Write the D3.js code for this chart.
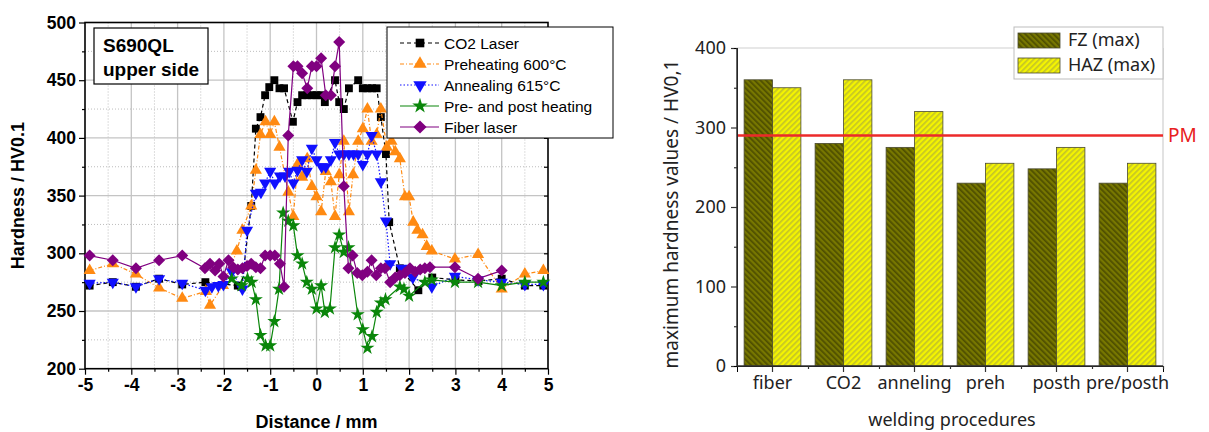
<!DOCTYPE html>
<html>
<head>
<meta charset="utf-8">
<script src="https://d3js.org/d3.v7.min.js"></script>
<style>
  body { margin: 0; background: #fff; }
  svg { display: block; }
</style>
</head>
<body>
<svg id="chart"></svg>
<script>
// ---- left panel data: hardness profiles, [distance mm, HV0.1]
var co2Laser = [[-4.9,272],[-4.4,275],[-3.9,271],[-3.4,278],[-2.9,273],[-2.4,275],[-1.7,272],[-1.62,271],
  [-1.41,341],[-1.31,408],[-1.21,418],[-1.11,437],[-1.02,444],[-0.91,450],[-0.8,443],[-0.7,443],[-0.51,414],
  [-0.41,431],[-0.31,437],[-0.2,437],[-0.1,437],[0,437],[0.1,437],[0.18,431],[0.4,450],[0.49,431],[0.59,425],
  [0.7,443],[0.9,450],[1.0,443],[1.1,443],[1.2,443],[1.3,443],[1.39,418],[1.5,386],[1.57,327],[1.8,287],
  [2.2,268],[2.5,279],[3.0,277],[3.5,276],[4.0,278],[4.5,272],[4.9,272]];
var preheating = [[-4.9,285],[-4.4,291],[-3.9,282],[-3.4,270],[-2.9,261],[-2.39,267],[-2.3,255],[-2.02,272],
  [-1.72,302],[-1.6,320],[-1.41,341],[-1.31,372],[-1.21,403],[-1.1,414],[-1.0,403],[-0.91,414],[-0.8,392],
  [-0.61,353],[-0.5,332],[-0.41,377],[-0.31,366],[-0.2,382],[-0.1,358],[0,349],[0.1,336],[0.2,371],[0.31,362],
  [0.4,332],[0.49,368],[0.59,397],[0.7,336],[0.79,368],[0.9,397],[1.0,408],[1.1,425],[1.19,397],[1.3,403],
  [1.39,425],[1.52,392],[1.62,397],[1.7,388],[1.8,382],[1.91,349],[2.0,349],[2.09,327],[2.18,320],[2.29,316],
  [2.38,306],[2.49,302],[2.99,295],[3.49,299],[4.0,269],[4.5,282],[4.9,285]];
var annealing = [[-4.9,274],[-4.4,275],[-3.9,271],[-3.4,278],[-2.9,274],[-2.4,268],[-2.26,271],[-2.12,272],
  [-2.01,273],[-1.83,284],[-1.6,269],[-1.5,320],[-1.31,352],[-1.2,353],[-1.11,361],[-1.0,371],[-0.9,361],
  [-0.79,367],[-0.68,367],[-0.59,371],[-0.5,361],[-0.41,372],[-0.31,381],[-0.21,371],[-0.1,391],[0,381],
  [0.11,375],[0.2,375],[0.31,381],[0.4,396],[0.49,386],[0.59,386],[0.7,386],[0.8,386],[0.9,386],[1.0,377],
  [1.1,386],[1.19,402],[1.3,386],[1.39,362],[1.5,328],[1.59,291],[1.84,287],[2.08,279],[2.49,271],[2.99,280],
  [3.49,277],[4.0,275],[4.5,273],[4.9,273]];
var prePostHeating = [[-1.83,278],[-1.62,272],[-1.49,278],[-1.4,275],[-1.31,260],[-1.21,229],[-1.1,220],
  [-1.0,220],[-0.91,241],[-0.81,269],[-0.72,335],[-0.61,328],[-0.5,324],[-0.41,298],[-0.31,291],[-0.21,275],
  [-0.1,269],[0,252],[0.1,272],[0.18,249],[0.29,252],[0.4,305],[0.49,316],[0.59,301],[0.69,305],[0.89,247],
  [1.0,234],[1.1,218],[1.2,228],[1.3,249],[1.39,257],[1.49,260],[1.8,271],[1.89,269],[2.0,263],[2.34,275],
  [2.49,277],[2.99,275],[3.49,275],[4.0,272],[4.5,275],[4.9,275]];
var fiberLaser = [[-4.9,298],[-4.4,294],[-3.9,287],[-3.4,294],[-2.9,298],[-2.41,287],[-2.3,291],[-2.19,285],
  [-2.1,291],[-2.01,280],[-1.9,294],[-1.8,288],[-1.7,286],[-1.6,287],[-1.5,289],[-1.41,291],[-1.31,288],
  [-1.21,287],[-1.11,298],[-1.0,298],[-0.9,298],[-0.79,291],[-0.7,271],[-0.61,402],[-0.5,462],[-0.41,462],
  [-0.31,456],[-0.2,443],[-0.1,462],[0,462],[0.1,469],[0.2,437],[0.31,437],[0.4,462],[0.49,483],[0.59,358],
  [0.69,287],[0.78,298],[0.88,283],[0.99,281],[1.1,284],[1.19,294],[1.29,281],[1.39,287],[1.48,287],
  [1.59,275],[1.7,279],[1.8,281],[1.91,283],[2.02,287],[2.13,284],[2.24,286],[2.34,287],[2.45,288],
  [2.99,288],[3.49,278],[4.0,285]];
var seriesNames = ['CO2 Laser','Preheating 600°C','Annealing 615°C','Pre- and post heating','Fiber laser'];
var distTicks = [-5,-4,-3,-2,-1,0,1,2,3,4,5];
var hardTicks = [200,250,300,350,400,450,500];

// ---- right panel data: maximum hardness per procedure
var procedures = ['fiber','CO2','anneling','preh','posth','pre/posth'];
var fzMax  = [360,280,275,230,248,230];
var hazMax = [350,360,320,255,275,255];
var pmLevel = 290;
var maxTicks = [0,100,200,300,400];

var svg = d3.select('#chart').attr('width',1209).attr('height',432);
var defs = svg.append('defs');

// ================= LEFT PANEL =================
var L = {left:85, right:548, top:22.5, bottom:368.7};
var x = d3.scaleLinear().domain([-5,5]).range([L.left,L.right]);
var y = d3.scaleLinear().domain([200,500]).range([L.bottom,L.top]);
var boldFont = '"Liberation Sans", Arial, sans-serif';

var grid = svg.append('g');
d3.range(-4.5,5,0.5).forEach(function(v){
  var major = Math.abs(v - Math.round(v)) < 1e-6;
  grid.append('line').attr('x1',x(v)).attr('x2',x(v)).attr('y1',L.top).attr('y2',L.bottom)
    .attr('stroke', major ? '#c4c4c4' : '#bdbdbd').attr('stroke-width', major ? 1.3 : 1)
    .attr('stroke-dasharray', major ? null : '1,2');
});
d3.range(225,500,25).forEach(function(v){
  var major = v % 50 === 0;
  grid.append('line').attr('x1',L.left).attr('x2',L.right).attr('y1',y(v)).attr('y2',y(v))
    .attr('stroke', major ? '#c4c4c4' : '#bdbdbd').attr('stroke-width', major ? 1.3 : 1)
    .attr('stroke-dasharray', major ? null : '1,2');
});

// axes
var axL = svg.append('g').attr('transform','translate('+L.left+',0)')
  .call(d3.axisLeft(y).tickValues(hardTicks).tickSize(6).tickPadding(3));
svg.append('g').attr('transform','translate('+L.left+',0)')
  .call(d3.axisLeft(y).tickValues(d3.range(225,500,50)).tickSize(3).tickFormat(''));
var axB = svg.append('g').attr('transform','translate(0,'+L.bottom+')')
  .call(d3.axisBottom(x).tickValues(distTicks).tickSize(6).tickPadding(4)
    .tickFormat(function(d){ return String(d); }));
svg.append('g').attr('transform','translate(0,'+L.bottom+')')
  .call(d3.axisBottom(x).tickValues(d3.range(-4.5,5,1)).tickSize(3).tickFormat(''));
svg.append('g').attr('transform','translate('+L.right+',0)')
  .call(d3.axisLeft(y).tickValues(d3.range(225,500,25)).tickSize(4).tickFormat(''));
[axL, axB].forEach(function(a){
  a.selectAll('text').attr('font-family',boldFont).attr('font-weight','bold')
    .attr('font-size',17.5).attr('fill','#000');
});
svg.selectAll('.domain').remove();
svg.selectAll('.tick line').attr('stroke','#000').attr('stroke-width',1.2);
svg.append('rect').attr('x',L.left).attr('y',L.top).attr('width',L.right-L.left).attr('height',L.bottom-L.top)
  .attr('fill','none').attr('stroke','#000').attr('stroke-width',1.6);

svg.append('text').attr('transform','translate(24,'+((L.top+L.bottom)/2)+') rotate(-90)')
  .attr('text-anchor','middle').attr('font-family',boldFont).attr('font-weight','bold')
  .attr('font-size',18).text('Hardness / HV0.1');
svg.append('text').attr('x',(L.left+L.right)/2).attr('y',428)
  .attr('text-anchor','middle').attr('font-family',boldFont).attr('font-weight','bold')
  .attr('font-size',18).text('Distance / mm');

// series
var styles = [
  {data:co2Laser,       color:'#000000', dash:'4,3',     sym:d3.symbolSquare,   size:62, rot:0},
  {data:preheating,     color:'#ff8a12', dash:'4,2,1,2', sym:d3.symbolTriangle, size:64, rot:0},
  {data:annealing,      color:'#1010ff', dash:'1.5,2',   sym:d3.symbolTriangle, size:64, rot:180},
  {data:prePostHeating, color:'#0a860a', dash:null,      sym:d3.symbolStar,     size:62, rot:0},
  {data:fiberLaser,     color:'#800080', dash:null,      sym:d3.symbolSquare,   size:72, rot:45}
];
var line = d3.line().x(function(d){return x(d[0]);}).y(function(d){return y(d[1]);});
styles.forEach(function(s){
  var gS = svg.append('g');
  gS.append('path').attr('d',line(s.data)).attr('fill','none').attr('stroke',s.color)
    .attr('stroke-width',1.2).attr('stroke-dasharray',s.dash);
  gS.selectAll('path.m').data(s.data).enter().append('path').attr('class','m')
    .attr('d',d3.symbol().type(s.sym).size(s.size))
    .attr('transform',function(d){return 'translate('+x(d[0])+','+y(d[1])+') rotate('+s.rot+')';})
    .attr('fill',s.color);
});

// inset label
svg.append('rect').attr('x',94).attr('y',28).attr('width',114).attr('height',56)
  .attr('fill','#fff').attr('stroke','#000').attr('stroke-width',1.2);
svg.append('text').attr('x',103).attr('y',52).attr('font-family',boldFont).attr('font-weight','bold')
  .attr('font-size',19).text('S690QL');
svg.append('text').attr('x',103).attr('y',76).attr('font-family',boldFont).attr('font-weight','bold')
  .attr('font-size',19).text('upper side');

// legend
var lg = svg.append('g');
lg.append('rect').attr('x',387).attr('y',27).attr('width',226).attr('height',111)
  .attr('fill','#fff').attr('stroke','#000').attr('stroke-width',1);
styles.forEach(function(s,i){
  var ly = 43 + i*21;
  lg.append('line').attr('x1',400).attr('x2',439).attr('y1',ly).attr('y2',ly)
    .attr('stroke',s.color).attr('stroke-width',1.2).attr('stroke-dasharray',s.dash);
  lg.append('path').attr('d',d3.symbol().type(s.sym).size(s.size*1.2))
    .attr('transform','translate(420,'+ly+') rotate('+s.rot+')').attr('fill',s.color);
  lg.append('text').attr('x',444).attr('y',ly+5.5).attr('font-family',boldFont)
    .attr('font-size',15.5).text(seriesNames[i]);
});

// ================= RIGHT PANEL =================
var R = {left:737, right:1163, top:48, bottom:366};
var rFont = '"Noto Sans", "Open Sans", sans-serif';
var xb = d3.scaleBand().domain(procedures).range([R.left,R.right]).paddingInner(0.2).paddingOuter(0.1);
var xs = d3.scaleBand().domain(['fz','haz']).range([0,xb.bandwidth()]);
var yb = d3.scaleLinear().domain([0,400]).range([R.bottom,R.top]);

function stripes(id, base, stripe, angle){
  var p = defs.append('pattern').attr('id',id).attr('patternUnits','userSpaceOnUse')
    .attr('width',4).attr('height',4).attr('patternTransform','rotate('+angle+')');
  p.append('rect').attr('width',4).attr('height',4).attr('fill',base);
  p.append('rect').attr('width',1.7).attr('height',4).attr('fill',stripe);
}
stripes('fzPat','#777700','#4e4e00',-45);
stripes('hazPat','#f4f400','#c4c428',45);

// frame
svg.append('line').attr('x1',R.left).attr('x2',R.right).attr('y1',R.top).attr('y2',R.top)
  .attr('stroke','#cfcfcf').attr('stroke-width',1.2);
svg.append('line').attr('x1',R.right).attr('x2',R.right).attr('y1',R.top).attr('y2',R.bottom)
  .attr('stroke','#cfcfcf').attr('stroke-width',1.2);

var bars = svg.append('g');
procedures.forEach(function(p,i){
  [['fz',fzMax[i],'url(#fzPat)'],['haz',hazMax[i],'url(#hazPat)']].forEach(function(b){
    bars.append('rect').attr('x',xb(p)+xs(b[0])).attr('y',yb(b[1]))
      .attr('width',xs.bandwidth()).attr('height',yb(0)-yb(b[1]))
      .attr('fill',b[2]).attr('stroke','#4a4a30').attr('stroke-width',0.8);
  });
});

svg.append('line').attr('x1',R.left).attr('x2',R.right).attr('y1',yb(pmLevel)).attr('y2',yb(pmLevel))
  .attr('stroke','#ec2a2a').attr('stroke-width',2.4);
svg.append('text').attr('x',R.right+5).attr('y',yb(pmLevel)+7).attr('font-family',rFont)
  .attr('font-size',19).attr('fill','#e82020').text('PM');

var ayR = svg.append('g').attr('transform','translate('+R.left+',0)')
  .call(d3.axisLeft(yb).tickValues(maxTicks).tickSize(6).tickPadding(5));
svg.append('g').attr('transform','translate('+R.left+',0)')
  .call(d3.axisLeft(yb).tickValues([50,150,250,350]).tickSize(3).tickFormat(''));
var axR = svg.append('g').attr('transform','translate(0,'+R.bottom+')')
  .call(d3.axisBottom(xb).tickSize(6).tickPadding(4));
svg.append('g').attr('transform','translate(0,'+R.bottom+')')
  .call(d3.axisBottom(d3.scaleLinear().domain([0,6]).range([R.left,R.right]))
    .tickValues([1,2,3,4,5,6]).tickSize(3).tickFormat(''));
[ayR, axR].forEach(function(a){
  a.selectAll('text').attr('font-family',rFont).attr('font-size',18).attr('fill','#222');
});
svg.selectAll('g').filter(function(){ return this.getAttribute('transform') &&
  this.getAttribute('transform').indexOf('translate(0,'+R.bottom) === 0 ||
  this.getAttribute('transform') === 'translate('+R.left+',0)'; })
  .selectAll('.tick line').attr('stroke','#333').attr('stroke-width',1.2);
svg.append('line').attr('x1',R.left).attr('x2',R.left).attr('y1',R.top).attr('y2',R.bottom)
  .attr('stroke','#333').attr('stroke-width',1.5);
svg.append('line').attr('x1',R.left).attr('x2',R.right).attr('y1',R.bottom).attr('y2',R.bottom)
  .attr('stroke','#333').attr('stroke-width',1.5);

svg.append('text').attr('transform','translate(678,214) rotate(-90)').attr('text-anchor','middle')
  .attr('font-family',rFont).attr('font-size',19).attr('fill','#222')
  .text('maximum hardness values / HV0,1');
svg.append('text').attr('x',(R.left+R.right)/2+2).attr('y',426).attr('text-anchor','middle')
  .attr('font-family',rFont).attr('font-size',18).attr('fill','#222').text('welding procedures');

// right legend
var rl = svg.append('g');
rl.append('rect').attr('x',1014).attr('y',27).attr('width',149).attr('height',52)
  .attr('fill','#fff').attr('stroke','#bdbdbd').attr('stroke-width',1);
[['fzPat','FZ (max)'],['hazPat','HAZ (max)']].forEach(function(d,i){
  var ty = 33 + i*25;
  rl.append('rect').attr('x',1018).attr('y',ty).attr('width',42).attr('height',15)
    .attr('fill','url(#'+d[0]+')').attr('stroke','#4a4a30').attr('stroke-width',0.8);
  rl.append('text').attr('x',1068).attr('y',ty+13).attr('font-family',rFont).attr('font-size',18)
    .attr('fill','#222').text(d[1]);
});
</script>
</body>
</html>
